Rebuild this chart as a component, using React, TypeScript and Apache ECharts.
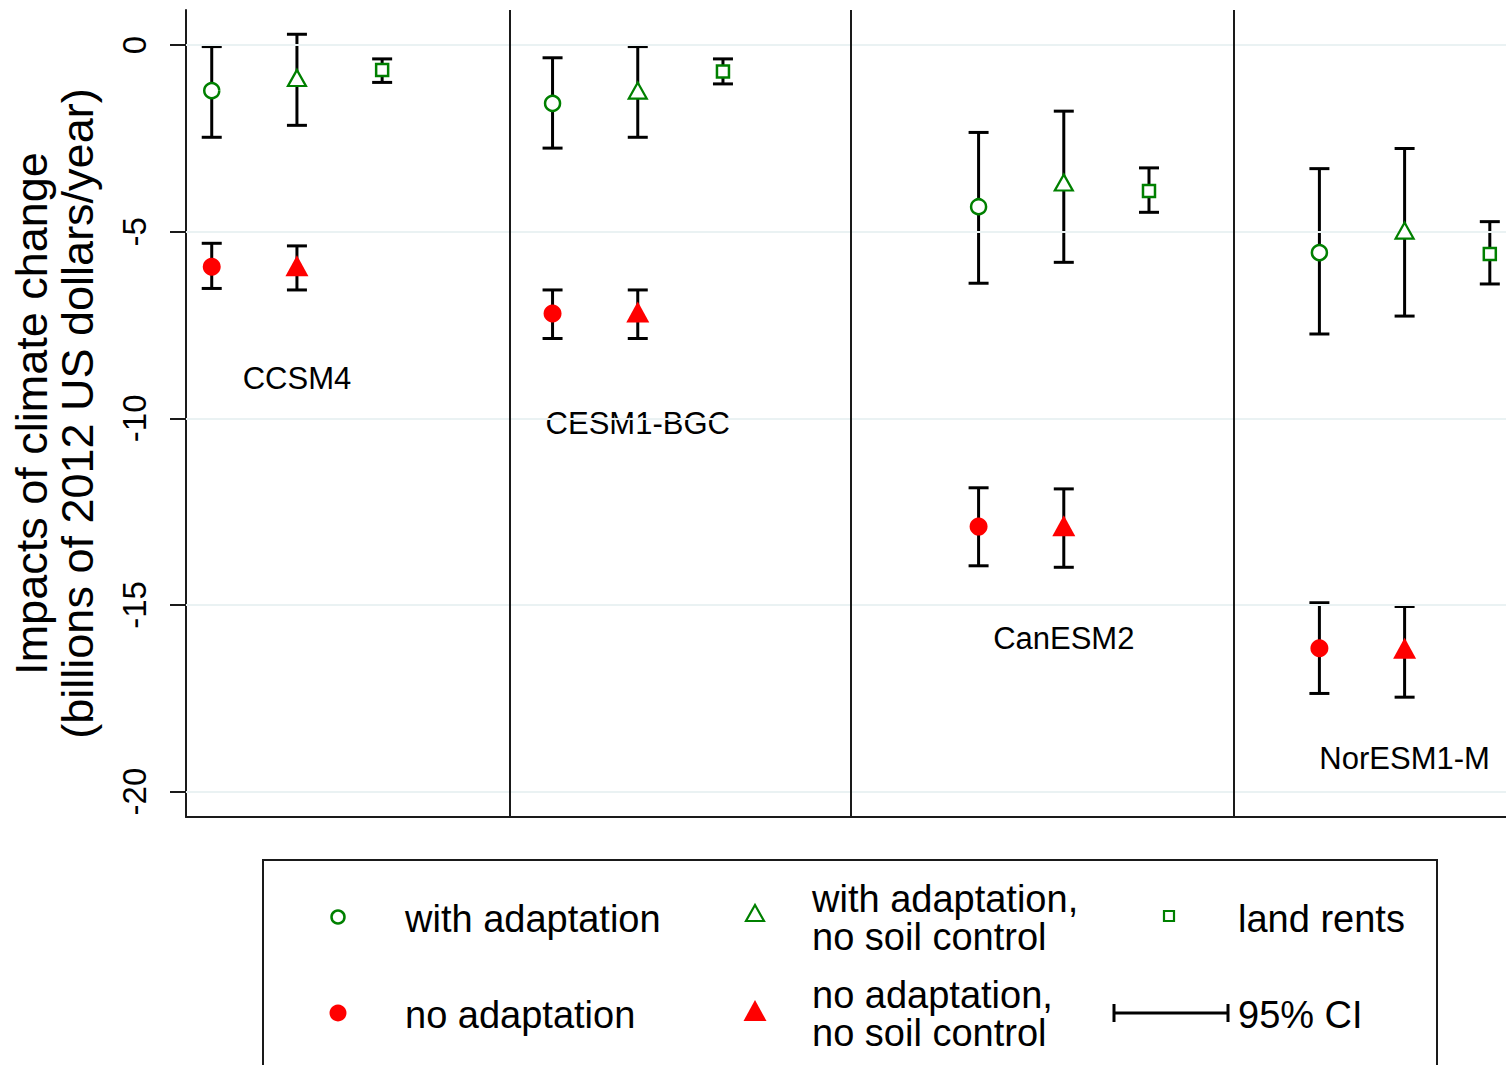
import React, { useEffect, useRef } from 'react';
import * as echarts from 'echarts';

const FONT = '"Liberation Sans", Arial, Helvetica, sans-serif';

// Model group labels
const models = ['CCSM4', 'CESM1-BGC', 'CanESM2', 'NorESM1-M'];
const modelLabelX = [2, 6, 11, 15];
const modelLabelY = [-8.92, -10.13, -15.89, -19.11];

// x positions of each estimate within the groups
const xWithAdaptation = [1, 5, 10, 14];
const xNoSoilControl = [2, 6, 11, 15];
const xLandRents = [3, 7, 12, 16];

// with adaptation
const withAdaptation = [-1.22, -1.56, -4.33, -5.56];
const withAdaptationLow = [-2.47, -2.76, -6.38, -7.74];
const withAdaptationHigh = [-0.04, -0.34, -2.34, -3.31];

// with adaptation, no soil control
const withAdaptNoSoil = [-0.88, -1.22, -3.68, -4.97];
const withAdaptNoSoilLow = [-2.15, -2.47, -5.82, -7.26];
const withAdaptNoSoilHigh = [0.29, -0.04, -1.77, -2.77];

// land rents
const landRents = [-0.67, -0.71, -3.91, -5.6];
const landRentsLow = [-1.0, -1.04, -4.48, -6.4];
const landRentsHigh = [-0.37, -0.37, -3.29, -4.73];

// no adaptation
const noAdaptation = [-5.94, -7.19, -12.9, -16.16];
const noAdaptationLow = [-6.52, -7.86, -13.95, -17.37];
const noAdaptationHigh = [-5.31, -6.56, -11.86, -14.94];

// no adaptation, no soil control
const noAdaptNoSoil = [-5.91, -7.15, -12.88, -16.16];
const noAdaptNoSoilLow = [-6.56, -7.86, -13.99, -17.47];
const noAdaptNoSoilHigh = [-5.38, -6.56, -11.89, -15.04];

// axis
const yTicks = [-20, -15, -10, -5, 0];
const separators = [4.5, 8.5, 13];
const xMin = 0.698;
const xMax = 16.19;
const yMin = -20.68;
const yMax = 0.94;

const GREEN = '#008000';
const RED = '#ff0000';
const GRID = '#eaf2f3';
const AXIS = '#1a1a1a';

const pts = (xs: number[], ys: number[]) => xs.map((x, i) => [x, ys[i]]);
const cis = (xs: number[], lo: number[], hi: number[]) => xs.map((x, i) => [x, lo[i], hi[i]]);

export default function App() {
  const ref = useRef<HTMLDivElement>(null);

  useEffect(() => {
    if (!ref.current) return;
    const chart = echarts.init(ref.current, undefined, { renderer: 'svg' });

    const ciData = [
      ...cis(xWithAdaptation, withAdaptationLow, withAdaptationHigh),
      ...cis(xNoSoilControl, withAdaptNoSoilLow, withAdaptNoSoilHigh),
      ...cis(xLandRents, landRentsLow, landRentsHigh),
      ...cis(xWithAdaptation, noAdaptationLow, noAdaptationHigh),
      ...cis(xNoSoilControl, noAdaptNoSoilLow, noAdaptNoSoilHigh),
    ];

    const hollow = { color: '#ffffff', borderColor: GREEN, borderWidth: 2.5, opacity: 1 };
    const filled = { color: RED, borderWidth: 0, opacity: 1 };

    const legendText = (text: string, x: number, y: number) => ({
      type: 'text',
      x,
      y,
      z: 11,
      style: {
        text,
        fontSize: 38,
        fontFamily: FONT,
        fill: '#000',
        align: 'left',
        verticalAlign: 'middle',
      },
    });

    const option: any = {
      animation: false,
      backgroundColor: '#ffffff',
      grid: {
        left: 186,
        top: 10,
        right: 0,
        bottom: 248,
        containLabel: false,
        outerBoundsMode: 'none',
      },
      xAxis: {
        type: 'value',
        min: xMin,
        max: xMax,
        axisLine: { show: true, onZero: false, lineStyle: { color: AXIS, width: 2 } },
        axisTick: { show: false },
        axisLabel: { show: false },
        splitLine: { show: false },
      },
      yAxis: {
        type: 'value',
        min: yMin,
        max: yMax,
        axisLine: { show: true, onZero: false, lineStyle: { color: AXIS, width: 2 } },
        axisTick: {
          show: true,
          length: 16,
          customValues: yTicks,
          lineStyle: { color: AXIS, width: 2 },
        },
        axisLabel: {
          show: true,
          customValues: yTicks,
          rotate: 90,
          margin: 35,
          fontSize: 33,
          fontFamily: FONT,
          color: '#000',
        },
        splitLine: { show: false },
        name: 'Impacts of climate change\n(billions of 2012 US dollars/year)',
        nameLocation: 'middle',
        nameRotate: 90,
        nameGap: 86,
        nameTextStyle: {
          fontSize: 45,
          lineHeight: 46,
          fontFamily: FONT,
          color: '#000',
        },
      },
      series: [
        {
          name: 'reference lines',
          type: 'scatter',
          z: 1,
          silent: true,
          data: [],
          markLine: {
            silent: true,
            symbol: ['none', 'none'],
            label: { show: false },
            animation: false,
            data: [
              ...yTicks.map((v) => ({
                yAxis: v,
                lineStyle: { color: GRID, width: 2, type: 'solid' },
              })),
              ...separators.map((v) => ({
                xAxis: v,
                lineStyle: { color: AXIS, width: 2, type: 'solid' },
              })),
            ],
          },
        },
        {
          name: 'models',
          type: 'scatter',
          z: 4,
          symbol: 'circle',
          symbolSize: 1,
          itemStyle: { color: 'rgba(0,0,0,0)', opacity: 1 },
          silent: true,
          data: models.map((m, i) => ({ name: m, value: [modelLabelX[i], modelLabelY[i]] })),
          label: {
            show: true,
            position: 'inside',
            formatter: '{b}',
            fontSize: 31,
            fontFamily: FONT,
            color: '#000',
            opacity: 1,
          },
        },
        {
          name: '95% CI',
          type: 'custom',
          z: 3,
          silent: true,
          data: ciData,
          encode: { x: 0, y: [1, 2] },
          renderItem: (params: any, api: any) => {
            const x = api.value(0);
            const lo = api.coord([x, api.value(1)]);
            const hi = api.coord([x, api.value(2)]);
            const hw = 10;
            const style = { stroke: '#000', lineWidth: 3, fill: 'none' };
            return {
              type: 'group',
              children: [
                { type: 'line', shape: { x1: lo[0], y1: lo[1], x2: hi[0], y2: hi[1] }, style },
                { type: 'line', shape: { x1: lo[0] - hw, y1: lo[1], x2: lo[0] + hw, y2: lo[1] }, style },
                { type: 'line', shape: { x1: hi[0] - hw, y1: hi[1], x2: hi[0] + hw, y2: hi[1] }, style },
              ],
            };
          },
        },
        {
          name: 'with adaptation',
          type: 'scatter',
          z: 5,
          symbol: 'circle',
          symbolSize: 15,
          itemStyle: hollow,
          data: pts(xWithAdaptation, withAdaptation),
        },
        {
          name: 'with adaptation, no soil control',
          type: 'scatter',
          z: 5,
          symbol: 'triangle',
          symbolSize: [18, 16],
          itemStyle: { ...hollow, borderWidth: 2.2 },
          data: pts(xNoSoilControl, withAdaptNoSoil),
        },
        {
          name: 'land rents',
          type: 'scatter',
          z: 5,
          symbol: 'rect',
          symbolSize: 12,
          itemStyle: hollow,
          data: pts(xLandRents, landRents),
        },
        {
          name: 'no adaptation',
          type: 'scatter',
          z: 5,
          symbol: 'circle',
          symbolSize: 18,
          itemStyle: filled,
          data: pts(xWithAdaptation, noAdaptation),
        },
        {
          name: 'no adaptation, no soil control',
          type: 'scatter',
          z: 5,
          symbol: 'triangle',
          symbolSize: [23, 21],
          itemStyle: filled,
          data: pts(xNoSoilControl, noAdaptNoSoil),
        },
      ],
      graphic: [
        {
          type: 'rect',
          z: 10,
          shape: { x: 263, y: 860, width: 1174, height: 260 },
          style: { fill: '#fff', stroke: AXIS, lineWidth: 2 },
        },
        {
          type: 'circle',
          z: 11,
          shape: { cx: 338, cy: 917, r: 6.5 },
          style: { fill: '#fff', stroke: GREEN, lineWidth: 2.5 },
        },
        legendText('with adaptation', 405, 919),
        {
          type: 'circle',
          z: 11,
          shape: { cx: 338, cy: 1013, r: 8.5 },
          style: { fill: RED },
        },
        legendText('no adaptation', 405, 1015),
        {
          type: 'polygon',
          z: 11,
          shape: { points: [[746, 921], [764, 921], [755, 905]] },
          style: { fill: '#fff', stroke: GREEN, lineWidth: 2.2 },
        },
        legendText('with adaptation,', 812, 899),
        legendText('no soil control', 812, 937),
        {
          type: 'polygon',
          z: 11,
          shape: { points: [[743.5, 1021], [766.5, 1021], [755, 1000]] },
          style: { fill: RED },
        },
        legendText('no adaptation,', 812, 995),
        legendText('no soil control', 812, 1033),
        {
          type: 'rect',
          z: 11,
          shape: { x: 1164, y: 911, width: 10, height: 10 },
          style: { fill: '#fff', stroke: GREEN, lineWidth: 2.2 },
        },
        legendText('land rents', 1238, 919),
        {
          type: 'line',
          z: 11,
          shape: { x1: 1113, y1: 1013, x2: 1229, y2: 1013 },
          style: { stroke: '#000', lineWidth: 3 },
        },
        {
          type: 'line',
          z: 11,
          shape: { x1: 1114, y1: 1004, x2: 1114, y2: 1022 },
          style: { stroke: '#000', lineWidth: 3 },
        },
        {
          type: 'line',
          z: 11,
          shape: { x1: 1228, y1: 1004, x2: 1228, y2: 1022 },
          style: { stroke: '#000', lineWidth: 3 },
        },
        legendText('95% CI', 1238, 1015),
      ],
    };

    chart.setOption(option);
    return () => chart.dispose();
  }, []);

  return (
    <div
      ref={ref}
      style={{
        position: 'fixed',
        left: 0,
        top: 0,
        width: 1506,
        height: 1065,
        background: '#fff',
      }}
    />
  );
}
